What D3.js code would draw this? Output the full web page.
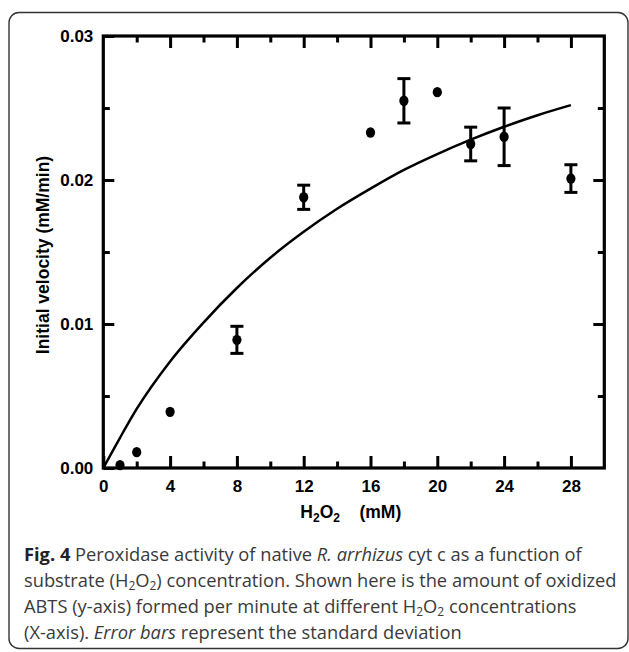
<!DOCTYPE html>
<html>
<head>
<meta charset="utf-8">
<script src="https://cdn.jsdelivr.net/npm/d3@7"></script>
<style>
  body { margin: 0; background: #fff; }
  svg text { font-family: "Liberation Sans", Arial, sans-serif; }
  .caption text { font-family: "Open Sans", sans-serif; }
</style>
</head>
<body>
<svg id="chart" width="629" height="652"></svg>
<script>
// measured points
const conc     = [1, 2, 4, 8, 12, 16, 18, 20, 22, 24, 28];
const velocity = [0.0002, 0.0011, 0.0039, 0.0089, 0.0188, 0.0233, 0.0255, 0.0261, 0.0225, 0.0230, 0.0201];
const sd       = [0, 0, 0, 0.00094, 0.00084, 0, 0.00154, 0, 0.00117, 0.0020, 0.00096];

// fitted curve
const fitX = [0, 1, 2, 4, 6, 8, 10, 12, 14, 16, 18, 20, 22, 24, 26, 28];
const fitY = [0, 0.0021, 0.0041, 0.0074, 0.0101, 0.0125, 0.0146, 0.0164, 0.0180, 0.0194, 0.0207, 0.0218, 0.0228, 0.0237, 0.0245, 0.0252];

const xMajor = [0, 4, 8, 12, 16, 20, 24, 28];
const xMinor = [2, 6, 10, 14, 18, 22, 26];
const yMajor = [0, 0.01, 0.02, 0.03];
const yMinor = [0.005, 0.015, 0.025];

const svg = d3.select("#chart");

const margin = {top: 36, left: 103.3},
  width  = 501,
  height = 432;

const scaleX = d3.scaleLinear().domain([0, 30]).range([0, width]);
const scaleY = d3.scaleLinear().domain([0, 0.03]).range([height, 0]);

// outer frame
svg.append("rect")
  .attr("x", 9).attr("y", 12.5)
  .attr("width", 619).attr("height", 636)
  .attr("rx", 10)
  .attr("fill", "none")
  .attr("stroke", "#333")
  .attr("stroke-width", 1.4);

const g = svg.append("g")
  .attr("transform", `translate(${margin.left},${margin.top})`);

function tickAxis(axis, pos, labels) {
  const a = g.append("g").attr("class", "axis").attr("transform", pos).call(axis);
  a.select(".domain").remove();
  a.selectAll("line").attr("stroke", "#000").attr("stroke-width", 3);
  a.selectAll("text")
    .attr("fill", "#000")
    .attr("font-weight", "bold")
    .attr("font-size", 17);
  if (!labels) a.selectAll("text").remove();
  return a;
}

// bottom + top
tickAxis(d3.axisBottom(scaleX).tickValues(xMajor).tickSize(-12).tickPadding(12).tickFormat(d3.format("d")), `translate(0,${height})`, true);
tickAxis(d3.axisBottom(scaleX).tickValues(xMinor).tickSize(-6.5), `translate(0,${height})`, false);
tickAxis(d3.axisTop(scaleX).tickValues(xMajor.slice(1)).tickSize(-12), "translate(0,0)", false);
tickAxis(d3.axisTop(scaleX).tickValues(xMinor).tickSize(-6.5), "translate(0,0)", false);

// left + right
tickAxis(d3.axisLeft(scaleY).tickValues(yMajor).tickSize(-11).tickPadding(10).tickFormat(d3.format(".2f")), "translate(0,0)", true);
tickAxis(d3.axisLeft(scaleY).tickValues(yMinor).tickSize(-6.5), "translate(0,0)", false);
tickAxis(d3.axisRight(scaleY).tickValues(yMajor.slice(1, 3)).tickSize(-11), `translate(${width},0)`, false);
tickAxis(d3.axisRight(scaleY).tickValues(yMinor).tickSize(-6.5), `translate(${width},0)`, false);

// plot box
g.append("rect")
  .attr("width", width).attr("height", height)
  .attr("fill", "none")
  .attr("stroke", "#000")
  .attr("stroke-width", 3.2);

// fit curve
const line = d3.line()
  .curve(d3.curveMonotoneX)
  .x((d, i) => scaleX(fitX[i]))
  .y(d => scaleY(d));

g.append("path")
  .datum(fitY)
  .attr("d", line)
  .attr("fill", "none")
  .attr("stroke", "#000")
  .attr("stroke-width", 2.5);

// error bars
const pts = conc.map((c, i) => ({x: c, y: velocity[i], e: sd[i]}));
const bars = g.selectAll(".err")
  .data(pts.filter(d => d.e > 0))
  .enter().append("g")
  .attr("class", "err");

bars.append("line")
  .attr("x1", d => scaleX(d.x)).attr("x2", d => scaleX(d.x))
  .attr("y1", d => scaleY(d.y - d.e)).attr("y2", d => scaleY(d.y + d.e))
  .attr("stroke", "#000").attr("stroke-width", 3);

[-1, 1].forEach(s => {
  bars.append("line")
    .attr("x1", d => scaleX(d.x) - 6.5).attr("x2", d => scaleX(d.x) + 6.5)
    .attr("y1", d => scaleY(d.y + s * d.e)).attr("y2", d => scaleY(d.y + s * d.e))
    .attr("stroke", "#000").attr("stroke-width", 3);
});

// points
g.selectAll(".dot")
  .data(pts)
  .enter().append("ellipse")
  .attr("class", "dot")
  .attr("cx", d => scaleX(d.x))
  .attr("cy", d => scaleY(d.y))
  .attr("rx", 4.6).attr("ry", 5.2)
  .attr("fill", "#000");

// axis titles
svg.append("text")
  .attr("transform", `translate(49,${margin.top + height / 2 + 3}) rotate(-90)`)
  .attr("text-anchor", "middle")
  .attr("font-weight", "bold")
  .attr("font-size", 17.5)
  .text("Initial velocity (mM/min)");

const xTitle = svg.append("text")
  .attr("x", margin.left + width / 2 - 3)
  .attr("y", 518)
  .attr("text-anchor", "middle")
  .attr("font-weight", "bold")
  .attr("font-size", 17.5);
xTitle.append("tspan").text("H");
xTitle.append("tspan").attr("font-size", 12).attr("dy", 4).text("2");
xTitle.append("tspan").attr("dy", -4).text("O");
xTitle.append("tspan").attr("font-size", 12).attr("dy", 4).text("2");
xTitle.append("tspan").attr("dy", -4).text("\u00a0\u00a0\u00a0\u00a0(mM)");

// caption
const captionLines = [
  [["Fig. 4", "b"], [" Peroxidase activity of native ", ""], ["R. arrhizus", "i"], [" cyt c as a function of", ""]],
  [["substrate (H", ""], ["2", "s"], ["O", ""], ["2", "s"], [") concentration. Shown here is the amount of oxidized", ""]],
  [["ABTS (y-axis) formed per minute at different H", ""], ["2", "s"], ["O", ""], ["2", "s"], [" concentrations", ""]],
  [["(X-axis). ", ""], ["Error bars", "i"], [" represent the standard deviation", ""]]
];

const cap = svg.append("g").attr("class", "caption");
captionLines.forEach((parts, li) => {
  const t = cap.append("text")
    .attr("x", 24)
    .attr("y", 561 + li * 26)
    .attr("font-size", 18.3)
    .attr("fill", "#3a3a3a")
    .attr("xml:space", "preserve");
  let sub = false;
  parts.forEach(([txt, st]) => {
    const ts = t.append("tspan").text(txt);
    if (st === "b") ts.attr("font-weight", "bold").attr("fill", "#222");
    if (st === "i") ts.attr("font-style", "italic");
    if (st === "s") { ts.attr("font-size", 12).attr("dy", 2.5); sub = true; }
    else if (sub) { ts.attr("dy", -2.5); sub = false; }
  });
});
</script>
</body>
</html>
